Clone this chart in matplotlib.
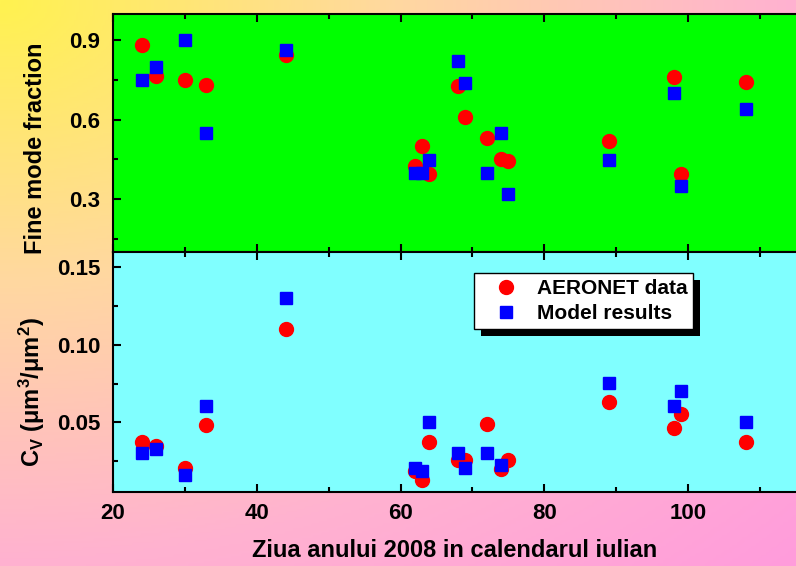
import numpy as np
import matplotlib
matplotlib.use("Agg")
from matplotlib import pyplot as plt
from matplotlib.colors import LinearSegmentedColormap
from matplotlib.ticker import MultipleLocator
import matplotlib.patheffects as pe

plt.rcParams["font.family"] = ["Liberation Sans", "DejaVu Sans"]
plt.rcParams["font.weight"] = "bold"
plt.rcParams["mathtext.fontset"] = "custom"
plt.rcParams["mathtext.rm"] = "Liberation Sans:bold"
plt.rcParams["mathtext.it"] = "Liberation Sans:bold"
plt.rcParams["mathtext.bf"] = "Liberation Sans:bold"

# day of year 2008
days = [24, 26, 30, 33, 44, 62, 63, 64, 68, 69, 72, 74, 75, 89, 98, 99, 108]

# fine mode fraction
fmf_aeronet = [0.882, 0.766, 0.749, 0.733, 0.844, 0.425, 0.500, 0.394, 0.726,
               0.611, 0.531, 0.452, 0.444, 0.521, 0.761, 0.395, 0.744]
fmf_model = [0.752, 0.800, 0.900, 0.551, 0.862, 0.400, 0.400, 0.449, 0.821,
             0.740, 0.400, 0.551, 0.320, 0.449, 0.700, 0.351, 0.640]

# volume concentration
cv_aeronet = [0.0372, 0.0350, 0.0205, 0.0480, 0.1105, 0.0183, 0.0125, 0.0372,
              0.0260, 0.0260, 0.0490, 0.0200, 0.0256, 0.0632, 0.0463, 0.0555, 0.0372]
cv_model = [0.0305, 0.0329, 0.0157, 0.0604, 0.1300, 0.0205, 0.0183, 0.0503,
            0.0305, 0.0205, 0.0305, 0.0226, np.nan, 0.0753, 0.0604, 0.0703, 0.0503]

fig = plt.figure(figsize=(7.96, 5.66), dpi=100)

# yellow -> pink backdrop
bg = fig.add_axes([0, 0, 1, 1], zorder=-10)
xx, yy = np.meshgrid(np.linspace(0, 1, 300), np.linspace(0, 1, 220))
t = np.sqrt(xx ** 2 + yy ** 2) / np.sqrt(2)
cmap = LinearSegmentedColormap.from_list(
    "bg", [(0, "#fff250"), (0.35, "#ffd8a0"), (0.7, "#ffb2d0"), (1.0, "#ff9cdc")])
bg.imshow(t, cmap=cmap, aspect="auto", extent=[0, 1, 0, 1], origin="upper")
bg.axis("off")

ax1 = fig.add_axes([0.142, 0.5548, 0.858, 0.4205])
ax2 = fig.add_axes([0.142, 0.1307, 0.858, 0.4241])
ax1.set_facecolor("#00ff00")
ax2.set_facecolor("#80ffff")

for ax, a, m in [(ax1, fmf_aeronet, fmf_model), (ax2, cv_aeronet, cv_model)]:
    ax.plot(days, a, "o", color="red", markersize=10, label="AERONET data")
    ax.plot(days, m, "s", color="blue", markersize=8, label="Model results")
    ax.set_xlim(20, 115)
    ax.xaxis.set_major_locator(MultipleLocator(20))
    ax.xaxis.set_minor_locator(MultipleLocator(10))
    ax.tick_params(which="both", direction="in", top=True, bottom=True,
                   right=False, width=1.5, labelsize=16, pad=9)
    ax.tick_params(which="major", length=6)
    ax.tick_params(which="minor", length=3.5)
    ax.spines["right"].set_visible(False)
    for s in ["left", "top", "bottom"]:
        ax.spines[s].set_linewidth(1.5)

ax1.set_ylim(0.1, 1.0)
ax1.yaxis.set_minor_locator(MultipleLocator(0.15))
ax1.set_yticks([0.3, 0.6, 0.9])
ax1.tick_params(labelbottom=False)
ax1.set_ylabel("Fine mode fraction", fontsize=17, fontweight="bold")
ax1.yaxis.set_label_coords(-0.096, 0.435)

ax2.set_ylim(0.005, 0.16)
ax2.set_yticks([0.05, 0.10, 0.15])
ax2.yaxis.set_minor_locator(MultipleLocator(0.025))
ax2.tick_params(axis="x", pad=8)
ax2.set_ylabel("C$_V$ ($\\mu$m$^3$/$\\mu$m$^2$)", fontsize=17, fontweight="bold")
ax2.yaxis.set_label_coords(-0.096, 0.417)
ax2.set_xlabel("Ziua anului 2008 in calendarul iulian", fontsize=17, fontweight="bold")
ax2.xaxis.set_label_coords(0.5, -0.194)

leg = ax2.legend(loc="upper left", bbox_to_anchor=(0.5286, 0.914), borderaxespad=0,
                 fancybox=False, framealpha=1, edgecolor="black", fontsize=15,
                 handlelength=2.45, handletextpad=0.25, borderpad=0.3,
                 labelspacing=0.3)
leg.get_frame().set_linewidth(1.0)
leg.get_frame().set_path_effects([
    pe.SimplePatchShadow(offset=(5, -5), shadow_rgbFace="black", alpha=1),
    pe.Normal()])

fig.savefig("out.png", dpi=100)
